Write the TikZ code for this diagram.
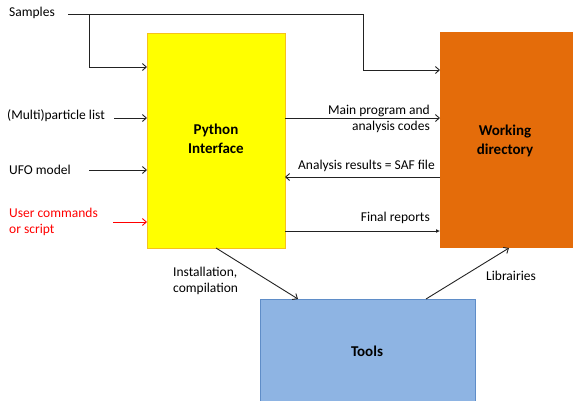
\documentclass[tikz,border=0pt]{standalone}
\usepackage{fontspec}
\setmainfont{Carlito}
\usetikzlibrary{arrows.meta}
\definecolor{pyfill}{HTML}{FFFF00}
\definecolor{pyedge}{HTML}{F6C21C}
\definecolor{wdfill}{HTML}{E46C0A}
\definecolor{tlfill}{HTML}{8EB4E3}
\definecolor{tledge}{HTML}{5F8DC8}
\definecolor{linegray}{HTML}{222222}
\tikzset{
  box/.style={inner sep=0pt, line width=1pt, font=\fontsize{15}{19}\selectfont\bfseries, align=center},
  lbl/.style={font=\fontsize{13.5}{16.5}\selectfont, inner sep=0pt},
  flow/.style={draw=linegray, line width=0.9pt, -{Straight Barb[length=4pt,width=7pt]}},
  plain/.style={draw=linegray, line width=0.9pt}
}
\begin{document}
\begin{tikzpicture}[x=1pt,y=-1pt]
\useasboundingbox (0,0) rectangle (573,400);
% main blocks
\path[fill=pyfill, draw=pyedge, line width=1pt] (147,33) rectangle (285,248);
\node[box] (py) at (216,139) {Python\\Interface};
\path[fill=wdfill] (440,32) rectangle (575,248);
\node[box] (wd) at (505,141) {Working\\directory};
\path[fill=tlfill, draw=tledge, line width=1pt] (260,299) rectangle (475,402);
\node[box] (tl) at (367,351) {Tools};
% anchors on the block borders
\coordinate (pyL1) at (147,67);
\coordinate (pyL2) at (147,118);
\coordinate (pyL3) at (147,170);
\coordinate (pyL4) at (147,222);
\coordinate (pyR1) at (285,118);
\coordinate (pyR2) at (285,177);
\coordinate (pyR3) at (285,231);
\coordinate (pyB) at (216,248);
\coordinate (wdL0) at (440,70);
\coordinate (wdL1) at (440,118);
\coordinate (wdL2) at (440,177);
\coordinate (wdL3) at (440,231);
\coordinate (wdB) at (509,248);
\coordinate (tlT1) at (298,299);
\coordinate (tlT2) at (426,299);
% inputs
\node[lbl, anchor=west] (samples) at (9,13) {Samples};
\coordinate (sStart) at (68,14);
\coordinate (sSplit) at (89,14);
\coordinate (sTurn) at (363,14);
\draw[plain] (sStart) -- (sTurn);
\draw[flow] (sSplit) |- (pyL1);
\draw[flow] (sTurn) |- (wdL0);
\node[lbl, anchor=west] (plist) at (7,116) {(Multi)particle list};
\coordinate (plistEnd) at (114,118);
\draw[flow] (plistEnd) -- (pyL2);
\node[lbl, anchor=west] (ufo) at (9,170) {UFO model};
\coordinate (ufoEnd) at (89,170);
\draw[flow] (ufoEnd) -- (pyL3);
\node[lbl, anchor=west, text=red, align=left] (user) at (9,222) {User commands\\or script};
\coordinate (userEnd) at (113,222);
\draw[flow, draw=red] (userEnd) -- (pyL4);
% exchanges between the interface and the working directory
\draw[flow] (pyR1) -- (wdL1);
\node[lbl, anchor=east, align=right] at (430,119) {Main program and\\analysis codes};
\draw[flow] (wdL2) -- (pyR2);
\node[lbl, anchor=east] at (435,166) {Analysis results = SAF file};
\draw[plain, -{Latex[length=4pt,width=4pt]}] (pyR3) -- (wdL3);
\node[lbl, anchor=east] at (430,218) {Final reports};
% tools
\draw[flow] (pyB) -- (tlT1);
\node[lbl, anchor=west, align=left] at (173,281) {Installation,\\compilation};
\draw[flow] (tlT2) -- (wdB);
\node[lbl, anchor=west] at (486,276) {Librairies};
\end{tikzpicture}
\end{document}
